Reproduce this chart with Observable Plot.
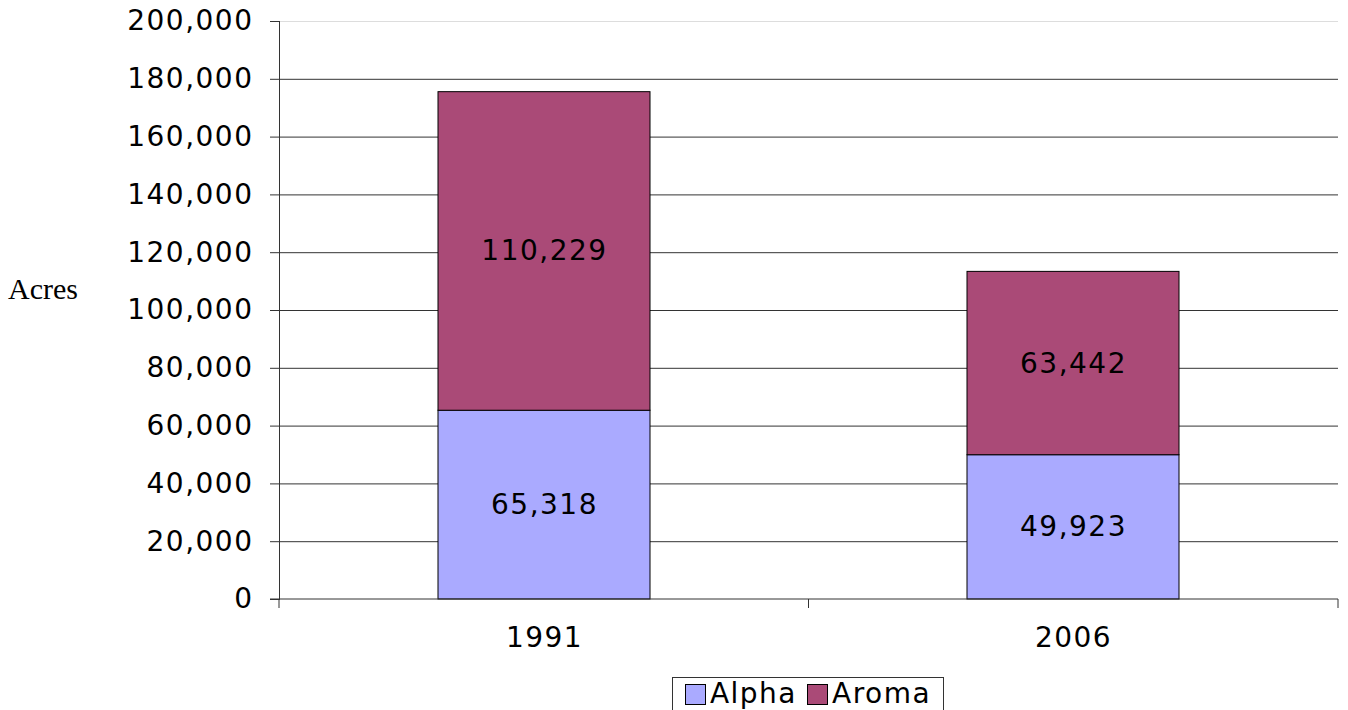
<!DOCTYPE html>
<html>
<head>
<meta charset="utf-8">
<script src="https://cdn.jsdelivr.net/npm/d3@7"></script>
<script src="https://cdn.jsdelivr.net/npm/@observablehq/plot@0.6"></script>
<style>
  html, body { margin: 0; padding: 0; background: #fff; }
  #wrap { position: relative; width: 1348px; height: 710px; overflow: hidden; }
  #chart { position: absolute; left: 0; top: 0; }
  #ylabel { position: absolute; left: 8px; top: 272px; font-family: "Liberation Serif", "Times New Roman", serif; font-size: 30px; color: #000; }
  #legend { position: absolute; left: 672px; top: 677px; width: 272px; height: 40px; border: 1px solid #333; box-sizing: border-box;
            display: flex; align-items: flex-start; justify-content: center; gap: 10px; padding-top: 0px;
            font-family: "DejaVu Sans", Verdana, sans-serif; font-size: 28px; letter-spacing: 1.5px; line-height: 32px; color: #000; }
  .item { display: flex; align-items: center; gap: 4px; height: 32px; }
  .sw { width: 21px; height: 21px; border: 1px solid #000; box-sizing: border-box; }
</style>
</head>
<body>
<div id="wrap">
  <div id="chart"></div>
  <div id="ylabel">Acres</div>
  <div id="legend"></div>
</div>
<script>
const years = ["1991", "2006"];
const types = ["Alpha", "Aroma"];
const alpha = [65318, 49923];
const aroma = [110229, 63442];
const colors = ["#AAAAFF", "#AA4A77"];
const yTicks = [0, 20000, 40000, 60000, 80000, 100000, 120000, 140000, 160000, 180000, 200000];

const rows = [];
years.forEach((y, i) => rows.push({year: y, type: "Alpha", value: alpha[i]}));
years.forEach((y, i) => rows.push({year: y, type: "Aroma", value: aroma[i]}));

const fmt = d3.format(",");

// category boundary tick marks on the x axis
function boundaryTicks(index, scales, values, dims) {
  const g = d3.create("svg:g");
  const x0 = dims.marginLeft, x1 = dims.width - dims.marginRight;
  const yb = dims.height - dims.marginBottom;
  const n = years.length;
  for (let i = 0; i <= n; i++) {
    const xp = x0 + (x1 - x0) * i / n;
    g.append("line").attr("x1", xp).attr("x2", xp).attr("y1", yb).attr("y2", yb + 9)
      .attr("stroke", "#333").attr("stroke-width", 1);
  }
  g.append("line").attr("x1", x0 - 9).attr("x2", x1).attr("y1", yb).attr("y2", yb)
    .attr("stroke", "#333").attr("stroke-width", 1);
  return g.node();
}

const chart = Plot.plot({
  width: 1348,
  height: 666,
  marginLeft: 279,
  marginRight: 10,
  marginTop: 21,
  marginBottom: 67,
  style: {fontFamily: "DejaVu Sans, Verdana, sans-serif", fontSize: "28px", letterSpacing: "1.5px", color: "#000", background: "#fff"},
  x: {domain: years, paddingInner: 0.6, paddingOuter: 0.3, label: null},
  y: {domain: [0, 200000], label: null},
  color: {domain: types, range: colors},
  marks: [
    Plot.ruleY(yTicks.filter(t => t > 0 && t < 200000), {stroke: "#333", strokeWidth: 1}),
    Plot.ruleY([200000], {stroke: "#ddd", strokeWidth: 1}),
    Plot.barY(rows, Plot.stackY({x: "year", y: "value", z: "type", fill: "type", stroke: "#000", strokeWidth: 1, order: null})),
    Plot.text(rows, Plot.stackY({x: "year", y: "value", z: "type", text: d => fmt(d.value), fill: "#000", fontSize: 28, order: null})),
    Plot.axisY({ticks: yTicks, tickFormat: fmt, tickSize: 9, tickPadding: 17, stroke: "#333", fontSize: 28}),
    Plot.frame({anchor: "left", stroke: "#333"}),
    Plot.axisX({tickSize: 0, tickPadding: 28, fontSize: 28}),
    boundaryTicks
  ]
});
document.getElementById("chart").appendChild(chart);

const leg = document.getElementById("legend");
types.forEach((t, i) => {
  const it = document.createElement("div");
  it.className = "item";
  const sw = document.createElement("div");
  sw.className = "sw";
  sw.style.background = colors[i];
  const lb = document.createElement("span");
  lb.textContent = t;
  it.appendChild(sw); it.appendChild(lb);
  leg.appendChild(it);
});
</script>
</body>
</html>
